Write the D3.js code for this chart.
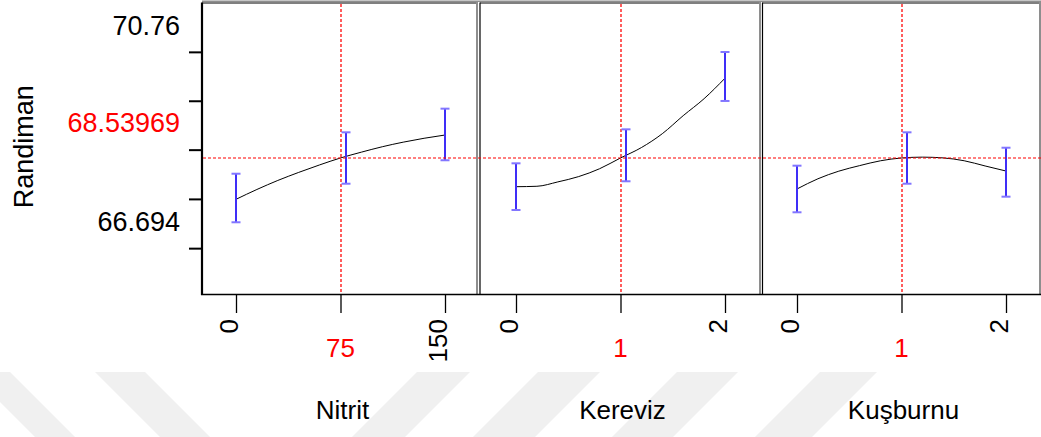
<!DOCTYPE html>
<html>
<head>
<meta charset="utf-8">
<script src="https://cdn.jsdelivr.net/npm/d3@7"></script>
<style>
  html, body { margin: 0; padding: 0; background: #ffffff; }
  svg { display: block; }
  text { font-family: "Liberation Sans", Arial, sans-serif; }
</style>
</head>
<body>
<svg id="chart" width="1041" height="437"></svg>
<script>
// ---- Response profile data ----
const responseName = "Randiman";
const currentResponse = 68.53969;
const yLabelTexts = ["70.76", "68.53969", "66.694"];
const yDomain = [66.5645, 70.76];
const yTickValues = [70.07, 69.365, 68.66, 67.95, 67.24];

const factorNames = ["Nitrit", "Kereviz", "Kuşburnu"];
const currentSettings = [75, 1, 1];

// Nitrit
const nitritDomain = [0, 150];
const nitritTicks = [0, 75, 150];
const nitritGrid = [0, 15, 30, 45, 60, 75, 90, 105, 120, 135, 150];
const nitritFit = [67.944, 68.086, 68.216, 68.332, 68.440, 68.540, 68.624, 68.702, 68.768, 68.824, 68.871];
const nitritLevels = [0, 75, 150];
const nitritLower = [67.613, 68.169, 68.507];
const nitritUpper = [68.313, 68.910, 69.251];

// Kereviz
const kerevizDomain = [0, 2];
const kerevizTicks = [0, 1, 2];
const kerevizGrid = [0, 0.2, 0.4, 0.6, 0.8, 1.0, 1.2, 1.4, 1.6, 1.8, 2.0];
const kerevizFit = [68.126, 68.132, 68.195, 68.272, 68.385, 68.540, 68.690, 68.890, 69.150, 69.395, 69.690];
const kerevizLevels = [0, 1, 2];
const kerevizLower = [67.790, 68.204, 69.362];
const kerevizUpper = [68.463, 68.953, 70.068];

// Kuşburnu
const kusburnuDomain = [0, 2];
const kusburnuTicks = [0, 1, 2];
const kusburnuGrid = [0, 0.2, 0.4, 0.6, 0.8, 1.0, 1.2, 1.4, 1.6, 1.8, 2.0];
const kusburnuFit = [68.093, 68.240, 68.350, 68.430, 68.500, 68.540, 68.552, 68.541, 68.500, 68.425, 68.352];
const kusburnuLevels = [0, 1, 2];
const kusburnuLower = [67.757, 68.169, 67.982];
const kusburnuUpper = [68.429, 68.910, 68.688];

// ---- Layout ----
const W = 1041, H = 437;
const plotTop = 4, plotBottom = 295;
const panelBoxes = [
  { left: 202, right: 477, inner: [236, 445] },
  { left: 480, right: 760, inner: [516, 725] },
  { left: 762.5, right: 1040, inner: [797, 1006] }
];
const fontSize = 26;
const yLabelFontSize = 27;
const red = "#ff0000";
const barColor = "#3f2ef7";
const capColor = "#8276ff";
const frameGray = "#8e8e8e";

const factors = [
  { name: factorNames[0], domain: nitritDomain, ticks: nitritTicks, grid: nitritGrid, fit: nitritFit,
    levels: nitritLevels, lower: nitritLower, upper: nitritUpper, current: currentSettings[0] },
  { name: factorNames[1], domain: kerevizDomain, ticks: kerevizTicks, grid: kerevizGrid, fit: kerevizFit,
    levels: kerevizLevels, lower: kerevizLower, upper: kerevizUpper, current: currentSettings[1] },
  { name: factorNames[2], domain: kusburnuDomain, ticks: kusburnuTicks, grid: kusburnuGrid, fit: kusburnuFit,
    levels: kusburnuLevels, lower: kusburnuLower, upper: kusburnuUpper, current: currentSettings[2] }
];

const svg = d3.select("#chart");

// faint diagonal background stripes
const stripes = [
  [[-30, 372], [10, 372], [75, 437], [35, 437]],
  [[95, 372], [145, 372], [210, 437], [160, 437]],
  [[417, 372], [470, 372], [405, 437], [352, 437]],
  [[538, 372], [600, 372], [535, 437], [473, 437]],
  [[677, 372], [738, 372], [673, 437], [612, 437]],
  [[820, 372], [877, 372], [812, 437], [755, 437]]
];
svg.append("g").selectAll("polygon").data(stripes).join("polygon")
  .attr("points", d => d.map(p => p.join(",")).join(" "))
  .attr("fill", "#f0f0f0");

const y = d3.scaleLinear().domain(yDomain).range([plotBottom, plotTop]);

// outer top shade line
svg.append("line")
  .attr("x1", panelBoxes[0].left).attr("x2", W)
  .attr("y1", 1.2).attr("y2", 1.2)
  .attr("stroke", frameGray).attr("stroke-width", 1.6);

// panels
factors.forEach((f, i) => {
  const box = panelBoxes[i];
  const x = d3.scaleLinear().domain(f.domain).range(box.inner);
  const g = svg.append("g");

  // frame: black left/top, gray right edge
  g.append("line").attr("x1", box.left).attr("x2", box.right)
    .attr("y1", 3).attr("y2", 3).attr("stroke", "#000").attr("stroke-width", 1.2);
  g.append("line").attr("x1", box.left).attr("x2", box.left)
    .attr("y1", 2.5).attr("y2", plotBottom)
    .attr("stroke", "#000").attr("stroke-width", i === 0 ? 2.2 : 1.2);
  g.append("line").attr("x1", box.right).attr("x2", box.right)
    .attr("y1", 1).attr("y2", plotBottom)
    .attr("stroke", frameGray).attr("stroke-width", 2);

  // current setting (vertical red dashed)
  const cx = Math.round(x(f.current));
  g.append("line")
    .attr("x1", cx).attr("x2", cx)
    .attr("y1", plotTop).attr("y2", plotBottom)
    .attr("stroke", red).attr("stroke-width", 1.5).attr("stroke-opacity", 0.85)
    .attr("stroke-dasharray", "3,2");

  // prediction trace
  const pts = f.grid.map((v, k) => [v, f.fit[k]]);
  g.append("path")
    .datum(pts)
    .attr("fill", "none")
    .attr("stroke", "#000")
    .attr("stroke-width", 1)
    .attr("d", d3.line().x(d => x(d[0])).y(d => y(d[1])).curve(d3.curveMonotoneX));

  // confidence intervals at design levels
  const bars = f.levels.map((lv, k) => ({ lv, lo: f.lower[k], hi: f.upper[k] }));
  const barX = d => x(d.lv) + (d.lv === f.current ? 5.5 : 0);
  const bg = g.append("g").selectAll("g").data(bars).join("g");
  bg.append("line")
    .attr("x1", barX).attr("x2", barX)
    .attr("y1", d => y(d.lo)).attr("y2", d => y(d.hi))
    .attr("stroke", barColor).attr("stroke-width", 2);
  ["lo", "hi"].forEach(key => {
    bg.append("line")
      .attr("x1", d => barX(d) - 4.5).attr("x2", d => barX(d) + 4.5)
      .attr("y1", d => y(d[key])).attr("y2", d => y(d[key]))
      .attr("stroke", capColor).attr("stroke-width", 2);
  });

  // x axis ticks
  const axis = d3.axisBottom(x).tickValues(f.ticks).tickSize(18).tickFormat("");
  const ag = g.append("g").attr("transform", `translate(0,${plotBottom})`).call(axis);
  ag.select(".domain").remove();
  ag.selectAll(".tick line").attr("stroke", "#000").attr("stroke-width", 1.3);

  // tick labels: rotated black, current one horizontal red
  f.ticks.forEach(t => {
    if (t === f.current) {
      g.append("text")
        .attr("x", x(t)).attr("y", 356.7)
        .attr("text-anchor", "middle")
        .attr("font-size", fontSize)
        .attr("fill", red)
        .text(t);
    } else {
      g.append("text")
        .attr("transform", `translate(${x(t) + 1.5},319) rotate(-90)`)
        .attr("text-anchor", "end")
        .attr("font-size", fontSize)
        .attr("fill", "#000")
        .text(t);
    }
  });

  // factor title
  g.append("text")
    .attr("x", (box.inner[0] + box.inner[1]) / 2 + 2)
    .attr("y", 419)
    .attr("text-anchor", "middle")
    .attr("font-size", fontSize)
    .attr("fill", "#000")
    .text(f.name);
});

// bottom frame line
svg.append("line")
  .attr("x1", panelBoxes[0].left - 1).attr("x2", W)
  .attr("y1", plotBottom - 0.5).attr("y2", plotBottom - 0.5)
  .attr("stroke", "#000").attr("stroke-width", 1.6);

// horizontal red dashed line at current response
const cy = y(currentResponse);
svg.append("line")
  .attr("x1", panelBoxes[0].left + 1).attr("x2", W)
  .attr("y1", cy).attr("y2", cy)
  .attr("stroke", red).attr("stroke-width", 1.2).attr("stroke-dasharray", "3,2");

// y axis ticks
const yAxis = d3.axisLeft(y).tickValues(yTickValues).tickSize(13).tickFormat("");
const yg = svg.append("g").attr("transform", `translate(${panelBoxes[0].left},0)`).call(yAxis);
yg.select(".domain").remove();
yg.selectAll(".tick line").attr("stroke", "#000").attr("stroke-width", 2);

// y labels: max, current (red), min
const yLabelBaselines = [35, 131.7, 231];
svg.append("g").selectAll("text").data(yLabelTexts).join("text")
  .attr("x", 180)
  .attr("y", (d, k) => yLabelBaselines[k])
  .attr("text-anchor", "end")
  .attr("font-size", yLabelFontSize)
  .attr("fill", (d, k) => k === 1 ? red : "#000")
  .text(d => d);

// response name
svg.append("text")
  .attr("transform", "translate(33,146.7) rotate(-90)")
  .attr("text-anchor", "middle")
  .attr("font-size", yLabelFontSize)
  .attr("fill", "#000")
  .text(responseName);
</script>
</body>
</html>
